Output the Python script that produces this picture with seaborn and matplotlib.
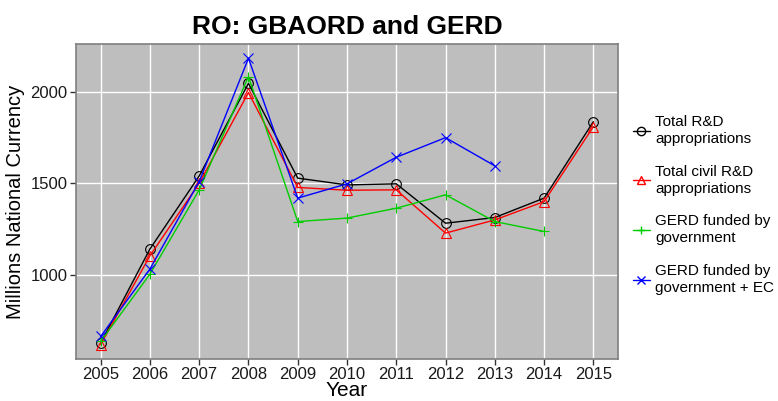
import pandas as pd
import seaborn as sns
import matplotlib.pyplot as plt
from matplotlib.lines import Line2D

# === Datos ===
years = [2005, 2006, 2007, 2008, 2009, 2010, 2011, 2012, 2013, 2014, 2015]
total_rd = [628, 1141, 1540, 2045, 1528, 1491, 1497, 1282, 1313, 1419, 1836]
civil_rd = [619, 1104, 1500, 1995, 1477, 1462, 1464, 1228, 1300, 1400, 1809]
gerd_gov = [637, 1004, 1464, 2082, 1291, 1310, 1364, 1437, 1291, 1237, None]
gerd_gov_ec = [664, 1032, 1509, 2182, 1419, 1497, 1642, 1749, 1595, None, None]

labels = ["Total R&D\nappropriations", "Total civil R&D\nappropriations",
          "GERD funded by\ngovernment", "GERD funded by\ngovernment + EC"]
colors = ["black", "#FF0000", "#00CD00", "#0000FF"]
markers = ["o", "^", "+", "x"]
series = [total_rd, civil_rd, gerd_gov, gerd_gov_ec]

rows = []
for lab, vals in zip(labels, series):
    for yr, v in zip(years, vals):
        if v is not None:
            rows.append({"year": yr, "value": v, "serie": lab})
df = pd.DataFrame(rows)

sns.set_theme(style="darkgrid")
plt.rcParams["font.family"] = ["Liberation Sans", "DejaVu Sans"]
plt.rcParams["text.color"] = "black"
plt.rcParams["axes.labelcolor"] = "black"

fig = plt.figure(figsize=(7.78, 4.01), dpi=100)
ax = fig.add_axes([76 / 778, 1 - 359 / 401, (618 - 76) / 778, (359 - 44) / 401])
ax.set_facecolor("#BEBEBE")

for lab, col, mk in zip(labels, colors, markers):
    sub = df[df["serie"] == lab]
    sns.lineplot(data=sub, x="year", y="value", ax=ax, color=col, marker=mk,
                 markersize=7, markerfacecolor="none", markeredgecolor=col,
                 markeredgewidth=0.8, linewidth=1.0, legend=False)

ax.set_xlim(2004.5, 2015.5)
ax.set_ylim(541, 2260)
ax.set_xticks(years)
ax.set_xticklabels([str(y) for y in years])
ax.set_yticks([1000, 1500, 2000])
ax.grid(True, color="white", linewidth=1.0)
ax.tick_params(axis="both", which="both", length=4, width=1, color="#333333",
               labelsize=12, labelcolor="#1a1a1a", bottom=True, left=True, pad=2)
for s in ax.spines.values():
    s.set_visible(True)
    s.set_color("#7F7F7F")
    s.set_linewidth(1.2)

ax.set_title("RO: GBAORD and GERD", fontsize=19, fontweight="bold", pad=7)
ax.set_xlabel("Year", fontsize=15, labelpad=-1)
ax.set_ylabel("Millions National Currency", fontsize=14.5, labelpad=4)

handles = [Line2D([0], [0], color=c, marker=m, markerfacecolor="none",
                  markeredgecolor=c, markersize=6, linewidth=1.0)
           for c, m in zip(colors, markers)]
leg = fig.legend(handles, labels, loc="center left", bbox_to_anchor=(633 / 778, 1 - 205 / 401),
                 frameon=False, fontsize=11, handlelength=1.1, handletextpad=0.35,
                 labelspacing=1.2, borderaxespad=0, borderpad=0)
for t in leg.get_texts():
    t.set_linespacing(1.3)

plt.savefig("out.png", dpi=100)
plt.close()
